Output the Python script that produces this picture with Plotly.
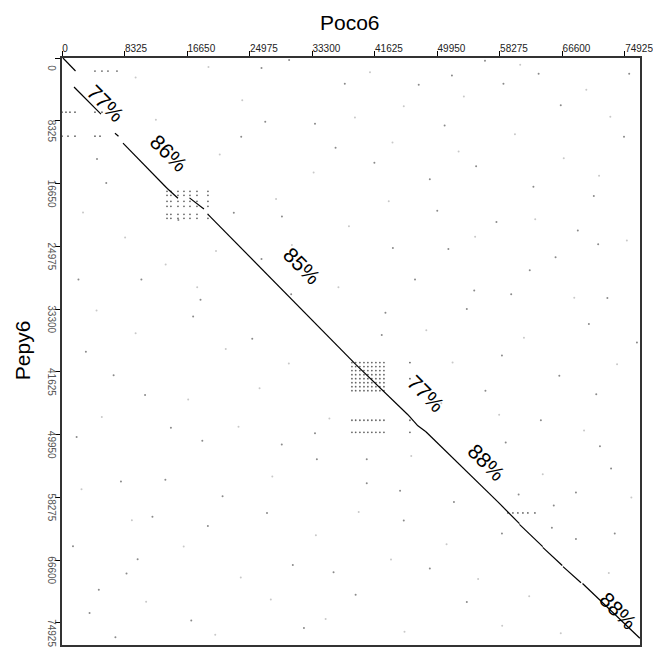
import itertools
import plotly.graph_objects as go

# ---- axis ticks ----
tick_vals = [0, 8325, 16650, 24975, 33300, 41625, 49950, 58275, 66600, 74925]
x_tick_text = ["0", "8325", "16650", "24975", "33300", "41625", "49950", "58275", "66600", "74925"]
y_tick_text = ["0", "8325", "16650", "24975", "33300", "41625", "49950", "58275", "66600", "74925"]
x_max = 76950
y_max = 77850

# ---- alignment segments (Poco6 position, Pepy6 position) ----
seg_x0 = [130, 1600, 7050, 8120, 13980, 16970, 19430, 39130, 46050, 47380, 48450, 58030, 60900, 64000, 66700, 69300]
seg_y0 = [0, 3850, 9970, 11300, 17280, 18550, 20730, 40670, 47310, 48780, 49570, 58870, 61850, 64900, 67450, 69700]
seg_x1 = [1800, 5190, 7520, 13980, 15440, 18900, 39130, 46050, 47380, 48450, 58030, 60900, 64000, 66600, 69100, 76930]
seg_y1 = [1730, 7440, 10370, 17280, 18600, 20030, 40670, 47310, 48780, 49580, 58870, 61750, 64800, 67300, 69600, 76950]

# ---- identity labels ----
label_text = ["77%", "86%", "85%", "77%", "88%", "88%"]
label_x = [5860, 14300, 31900, 48450, 56500, 74000]
label_y = [5980, 12600, 27500, 44500, 53700, 73300]

# ---- repeat clusters (rows x columns of dots) ----
cluster_a_rows = [17680, 18210, 19010, 19670, 20730, 21260]
cluster_a_cols = [13980, 14500, 15440, 16240, 17040, 17970, 19430]
cluster_b_rows = [40400, 40930, 41460, 42000, 42530, 43060, 43590, 44120, 48040, 49640]
cluster_b_cols = [38600, 39100, 39660, 40200, 40720, 41250, 41790, 42320, 42860]
cluster_c_rows = [60340]
cluster_c_cols = [59360, 60030, 60690, 61360, 62020, 62960]
cluster_d_x = [4390, 5320, 6120, 7320, 0, 530, 1060, 1730, 4390, 5320, 0, 800, 1730, 4390, 5060,
               46320, 46320, 46320, 46320]
cluster_d_y = [1730, 1730, 1730, 1730, 7180, 7180, 7180, 7180, 7180, 7180, 10370, 10370, 10370, 10370, 10370,
               40400, 42530, 48040, 49640]

# ---- scattered background hits ----
noise_dark_x = [30240, 56310, 75510, 66400, 33680, 58770, 70800, 47490, 26560, 51910, 63450, 37650, 23860,
                5890, 4660, 44050, 51440, 68670, 71380, 54880, 72610, 26560, 18440, 3180, 6870, 11060,
                14500, 18680, 1950, 29260, 33680, 40570, 40570, 13760, 7850, 19420, 10070, 4900, 8590,
                17210, 32210, 36150, 48970, 53890, 58570, 65220, 73590, 73100, 63750, 56370, 71130,
                66210, 58570, 59800, 53890, 42570, 70140, 65710, 47000, 55130, 62760, 41590, 36420,
                50940, 74820, 68420, 59070, 52180, 45500, 27290, 21380, 30730, 39090, 12040, 1460,
                3670, 7110, 27060, 29280, 15490, 22870, 49960, 10570, 2190, 17460, 25330, 33930,
                45010, 60790, 71620, 76540, 62270, 57840, 48970, 30510, 43060, 68420, 65470]
noise_dark_y = [260, 360, 2080, 6260, 8720, 3410, 18310, 3560, 1340, 2330, 2080, 3410, 10440,
                16580, 13390, 25190, 25340, 22880, 24700, 30840, 31830, 26670, 32070, 38960, 42060, 44710,
                49040, 50760, 50270, 51250, 49770, 56410, 53210, 55920, 56170, 62070, 66490, 70520, 68360,
                74610, 75590, 68210, 67720, 72150, 63050, 62310, 63050, 54450, 48050, 44120, 44610,
                42150, 39450, 31340, 33300, 36740, 35270, 26420, 29370, 14370, 17080, 13880, 11910,
                8960, 10440, 63790, 51000, 58870, 61330, 60350, 58130, 67230, 71170, 60840, 64770,
                73620, 76820, 8470, 21010, 21500, 20520, 20270, 29370, 29370, 34290, 37240, 53210,
                57390, 57880, 51500, 37730, 28140, 21750, 16090, 31340, 33790, 57640, 59360]
noise_light_x = [9800, 19500, 24000, 41000, 45500, 53500, 61000, 69800, 73000, 12500, 21000, 33500, 39000,
                 44000, 52800, 60300, 66800, 71500, 2800, 8400, 13800, 20500, 28500, 38200, 43500, 55000,
                 63000, 75200, 4600, 9800, 21800, 26300, 30200, 36800, 48500, 52000, 61500, 68200, 73900,
                 5300, 16800, 23500, 28000, 35600, 46500, 50500, 58200, 64000, 69500, 75800, 2600, 9300,
                 16200, 23800, 33800, 39500, 43800, 51200, 55400, 62200, 66400, 72800, 11200, 20400,
                 27800, 35100, 45600, 58600, 30600, 18000]
noise_light_y = [2600, 1200, 5600, 1900, 6400, 5100, 900, 4200, 7800, 8200, 12800, 15200, 7900,
                 11200, 12400, 10100, 13300, 15600, 20500, 23800, 27400, 25600, 18700, 22300, 19000, 23700,
                 21400, 24200, 33500, 36500, 38600, 43800, 40500, 30400, 36100, 40400, 37100, 31800, 40600,
                 47600, 45300, 48900, 55500, 47800, 52800, 45800, 47300, 55200, 49400, 58300, 57200, 61300,
                 64800, 68900, 63300, 60200, 66500, 64500, 69100, 71400, 76300, 68300, 72100, 76500,
                 71800, 74400, 76100, 75300, 24800, 30400]

fig = go.Figure()

# background hits
fig.add_trace(go.Scatter(x=noise_light_x, y=noise_light_y, mode="markers",
                         marker=dict(size=2, color="#c8c8c8", line=dict(width=0)),
                         hoverinfo="skip", showlegend=False))
fig.add_trace(go.Scatter(x=noise_dark_x, y=noise_dark_y, mode="markers",
                         marker=dict(size=2, color="#8a8a8a", line=dict(width=0)),
                         hoverinfo="skip", showlegend=False))

# repeat clusters
cx, cy = [], []
for rows, cols in [(cluster_a_rows, cluster_a_cols), (cluster_b_rows, cluster_b_cols),
                   (cluster_c_rows, cluster_c_cols)]:
    for r, c in itertools.product(rows, cols):
        cx.append(c)
        cy.append(r)
cx += cluster_d_x
cy += cluster_d_y
fig.add_trace(go.Scatter(x=cx, y=cy, mode="markers",
                         marker=dict(size=1.8, color="#666666", line=dict(width=0)),
                         hoverinfo="skip", showlegend=False))

# alignment segments
lx, ly = [], []
for a, b, c, d in zip(seg_x0, seg_y0, seg_x1, seg_y1):
    lx += [a, c, None]
    ly += [b, d, None]
fig.add_trace(go.Scatter(x=lx, y=ly, mode="lines",
                         line=dict(color="black", width=1.2),
                         hoverinfo="skip", showlegend=False))

annotations = []
for t, x, y in zip(label_text, label_x, label_y):
    annotations.append(dict(x=x, y=y, xref="x", yref="y", text=t, showarrow=False,
                            textangle=45, font=dict(family="Liberation Sans, Arial", size=21, color="black")))

annotations.append(dict(x=0.498, y=1.06, xref="paper", yref="paper", text="Poco6", showarrow=False,
                        xanchor="center", yanchor="middle",
                        font=dict(family="Liberation Sans, Arial", size=21, color="black")))
annotations.append(dict(x=-0.069, y=0.5025, xref="paper", yref="paper", text="Pepy6", showarrow=False,
                        textangle=-90, xanchor="center", yanchor="middle",
                        font=dict(family="Liberation Sans, Arial", size=21, color="black")))

fig.update_layout(
    width=653, height=648,
    margin=dict(l=62, r=13, t=58, b=3, autoexpand=False),
    paper_bgcolor="white", plot_bgcolor="white",
    annotations=annotations,
    xaxis=dict(range=[0, x_max], side="top", tickmode="array", tickvals=tick_vals, ticktext=x_tick_text,
               ticks="outside", ticklen=5, tickwidth=1.2, tickcolor="black",
               ticklabelposition="outside right", ticklabeloverflow="allow", automargin=False,
               ticklabelshift=-1,
               tickfont=dict(family="Liberation Sans, Arial", size=10, color="#222222"),
               showgrid=False, zeroline=False, showline=True, linecolor="#333333", linewidth=1.5,
               mirror=True, fixedrange=True),
    yaxis=dict(range=[y_max, 0], tickmode="array", tickvals=tick_vals, ticktext=y_tick_text,
               ticks="outside", ticklen=5, tickwidth=1.2, tickcolor="black",
               tickangle=90, ticklabelposition="outside bottom", ticklabeloverflow="allow", automargin=False,
               ticklabelshift=-4,
               tickfont=dict(family="Liberation Sans, Arial", size=10, color="#555555"),
               showgrid=False, zeroline=False, showline=True, linecolor="#333333", linewidth=1.5,
               mirror=True, fixedrange=True),
)

fig.write_html("out.html", config={"displayModeBar": False},
               post_script="document.body.style.margin='0';document.body.style.padding='0';")
